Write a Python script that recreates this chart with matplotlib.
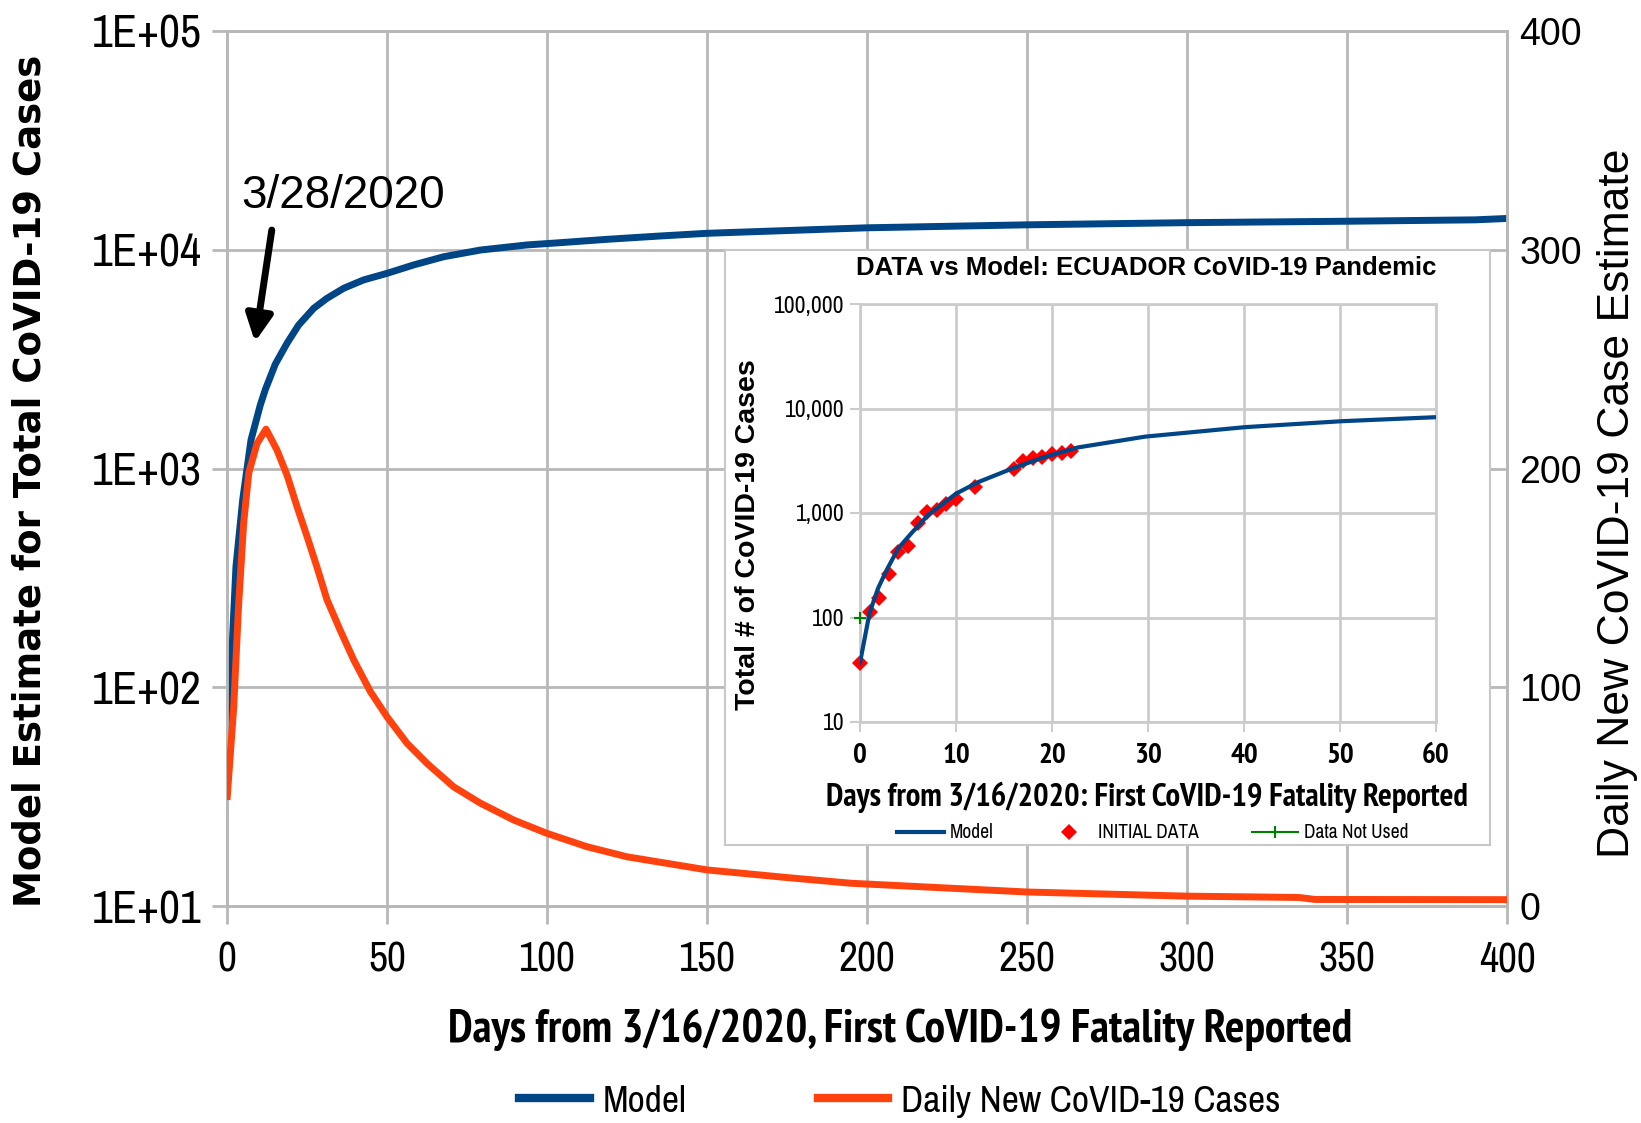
import matplotlib
matplotlib.use('Agg')
import matplotlib.pyplot as plt
from matplotlib.ticker import NullLocator
from matplotlib.lines import Line2D

# ---------------- data ----------------
main_x_ticks = [0, 50, 100, 150, 200, 250, 300, 350, 400]
main_y_ticks = [1e1, 1e2, 1e3, 1e4, 1e5]
main_y_ticklabels = ['1E+01', '1E+02', '1E+03', '1E+04', '1E+05']
right_y_ticks = [0, 100, 200, 300, 400]

series_names = ['Model', 'Daily New CoVID-19 Cases']

main_model_days = [0, 1, 1.8, 2.8, 4.9, 7.5, 10.4, 12, 15.1, 18.75, 22.4, 27.1, 31.25,
                   36.5, 42.7, 50, 58.3, 67.7, 79.2, 93.75, 104, 118.75, 135.4, 150,
                   200, 250, 300, 350, 390, 400]
main_model_cases = [37, 97, 176, 356, 718, 1350, 1950, 2300, 3000, 3736, 4530, 5400,
                    6000, 6670, 7280, 7800, 8520, 9290, 9970, 10520, 10770, 11160,
                    11560, 11890, 12600, 13000, 13300, 13500, 13700, 13900]

main_daily_days = [0, 2.1, 3.6, 5.2, 6.8, 9.4, 12.2, 15.6, 18.75, 21.9, 25, 28.1, 31.25,
                   35.4, 39.6, 44.8, 50, 56.25, 62.5, 70.8, 79.2, 89.6, 100, 112.5, 125,
                   137.5, 150, 175, 195, 250, 300, 335, 340, 400]
main_daily_vals = [48.5, 91, 137, 175, 198, 211.5, 218, 208.5, 197, 182.5, 169, 155,
                   140, 126, 112.5, 98, 86.5, 74.4, 65.2, 54.5, 47, 39.3, 33.2, 27.1,
                   22.5, 19.5, 16.5, 13, 10.4, 6.4, 4.5, 3.9, 3.0, 2.9]

inset_title = 'DATA vs Model: ECUADOR CoVID-19 Pandemic'
inset_x_ticks = [0, 10, 20, 30, 40, 50, 60]
inset_y_ticks = [10, 100, 1000, 10000, 100000]
inset_y_ticklabels = ['10', '100', '1,000', '10,000', '100,000']
inset_series_names = ['Model', 'INITIAL DATA', 'Data Not Used']

inset_model_days = [0, 1, 1.9, 2.8, 4, 5.35, 7.1, 10, 12.3, 15.7, 19.1, 22.7, 29.7,
                    40.1, 50.2, 60]
inset_model_cases = [37, 111, 192, 287, 461, 640, 955, 1531, 1973, 2630, 3404, 4240,
                     5380, 6630, 7560, 8260]

inset_data_days = [0, 1, 2, 3, 4, 5, 6, 7, 8, 9, 10, 12, 16, 17, 18, 19, 20, 21, 22]
inset_data_cases = [37, 114, 152, 262, 428, 480, 810, 1024, 1060, 1230, 1370, 1790,
                    2630, 3160, 3390, 3460, 3650, 3750, 3920]

unused_days = [0]
unused_cases = [100]

annot_text = '3/28/2020'
arrow_tail = (14.0, 12300)
arrow_tip = (8.75, 3790)

# ---------------- style ----------------
W, H, DPI = 1641, 1123, 100
BLUE = '#004586'
ORANGE = '#ff420e'
GRID = '#b8b8b8'
NARROW = ['Archivo Narrow', 'Liberation Sans']
NARROW_BOLD = ['PT Sans Narrow', 'Archivo Narrow', 'Liberation Sans']
REG = ['Liberation Sans']


def fx(px):
    return px / W


def fy(py):
    return 1 - py / H


fig = plt.figure(figsize=(W / DPI, H / DPI), dpi=DPI)
fig.patch.set_facecolor('white')

# ---------------- main axes ----------------
ax = fig.add_axes([fx(227), fy(906), (1507 - 227) / W, (906 - 31) / H])
ax.set_yscale('log')
ax.set_xlim(0, 400)
ax.set_ylim(10, 1e5)
ax.set_xticks(main_x_ticks)
ax.set_xticklabels([str(t) for t in main_x_ticks], family=NARROW, fontsize=30)
ax.set_yticks(main_y_ticks)
ax.set_yticklabels(main_y_ticklabels, family=NARROW, fontsize=33)
ax.yaxis.set_minor_locator(NullLocator())
ax.grid(True, color=GRID, lw=2)
ax.set_axisbelow(True)
ax.tick_params(axis='y', length=11, width=2, color=GRID, pad=7)
ax.tick_params(axis='x', length=13, width=2, color=GRID, pad=12)
for s in ax.spines.values():
    s.set_color(GRID)
    s.set_linewidth(2)
ax.plot(main_model_days, main_model_cases, color=BLUE, lw=5, zorder=3,
        solid_capstyle='butt', solid_joinstyle='round')

ax2 = ax.twinx()
ax2.set_ylim(0, 400)
ax2.set_yticks(right_y_ticks)
ax2.set_yticklabels([str(t) for t in right_y_ticks], family=REG, fontsize=27)
ax2.tick_params(axis='y', length=0, pad=9)
for s in ax2.spines.values():
    s.set_color(GRID)
    s.set_linewidth(2)
ax2.plot(main_daily_days, main_daily_vals, color=ORANGE, lw=5, zorder=3,
         solid_capstyle='butt', solid_joinstyle='round')

ax.annotate('', xy=arrow_tip, xytext=arrow_tail,
            arrowprops=dict(arrowstyle='-|>,head_length=0.4,head_width=0.2',
                            mutation_scale=40, lw=5, color='black',
                            shrinkA=0, shrinkB=0))
fig.text(fx(241), fy(208), annot_text, family=REG, fontsize=33, va='baseline')

fig.text(fx(30), fy(481), 'Model Estimate for Total CoVID-19 Cases', rotation=90,
         ha='center', va='center', fontsize=26.7, fontweight='bold', family='DejaVu Sans')
fig.text(fx(1618), fy(503), 'Daily New CoVID-19 Case Estimate', rotation=90,
         ha='center', va='center', fontsize=32, family=REG)
fig.text(fx(900), fy(1030), 'Days from 3/16/2020, First CoVID-19 Fatality Reported',
         ha='center', va='center', fontsize=33, fontweight='bold', family=NARROW_BOLD)

handles = [Line2D([], [], color=BLUE, lw=6), Line2D([], [], color=ORANGE, lw=6)]
fig.legend(handles, series_names, loc='center', bbox_to_anchor=(fx(900), fy(1101)),
           ncol=2, frameon=False, prop=dict(family=NARROW, size=27),
           handlelength=1.87, handletextpad=0.35, columnspacing=3.5)

# ---------------- inset ----------------
box = fig.add_axes([fx(725), fy(845), (1490 - 725) / W, (845 - 250) / H])
box.set_xticks([])
box.set_yticks([])
box.set_facecolor('white')
for s in box.spines.values():
    s.set_color('#c8c8c8')
    s.set_linewidth(1.5)

ins = fig.add_axes([fx(860), fy(722), (1436 - 860) / W, (722 - 304) / H])
ins.set_yscale('log')
ins.set_xlim(0, 60)
ins.set_ylim(10, 1e5)
ins.set_xticks(inset_x_ticks)
ins.set_xticklabels([str(t) for t in inset_x_ticks], family=NARROW_BOLD, fontsize=21,
                    fontweight='bold')
ins.set_yticks(inset_y_ticks)
ins.set_yticklabels(inset_y_ticklabels, family=NARROW, fontsize=17)
ins.yaxis.set_minor_locator(NullLocator())
ins.grid(True, color='#cccccc', lw=2)
ins.set_axisbelow(True)
ins.tick_params(axis='both', length=7, width=1.5, color='#cccccc')
ins.tick_params(axis='y', pad=4)
ins.tick_params(axis='x', pad=8)
for s in ins.spines.values():
    s.set_color('#cccccc')
    s.set_linewidth(2)

ins.plot(inset_model_days, inset_model_cases, color=BLUE, lw=3, zorder=4)
ins.plot(inset_data_days, inset_data_cases, 'D', color='#ff0000', ms=8, mew=0,
         zorder=3, clip_on=False)
ins.plot(unused_days, unused_cases, '+', color='#008000', ms=9, mew=1.5, zorder=3,
         clip_on=False)

fig.text(fx(1146), fy(268), inset_title, ha='center', va='center', fontsize=18.5,
         fontweight='bold', family=REG)
fig.text(fx(748), fy(535), 'Total # of CoVID-19 Cases', rotation=90, ha='center',
         va='center', fontsize=20.5, fontweight='bold', family=REG)
fig.text(fx(1147), fy(797), 'Days from 3/16/2020: First CoVID-19 Fatality Reported',
         ha='center', va='center', fontsize=23.4, fontweight='bold', family=NARROW_BOLD)

ins_handles = [Line2D([], [], color=BLUE, lw=3),
               Line2D([], [], ls='none', marker='D', color='#ff0000', ms=8, mew=0),
               Line2D([], [], color='#008000', lw=1.5, marker='+', ms=9, mew=1.5)]
fig.legend(ins_handles, inset_series_names, loc='center',
           bbox_to_anchor=(fx(1153), fy(833)), ncol=3, frameon=False,
           prop=dict(family=NARROW, size=14), handlelength=2.4,
           handletextpad=0.3, columnspacing=2.7)

fig.savefig('out.png', dpi=DPI)
